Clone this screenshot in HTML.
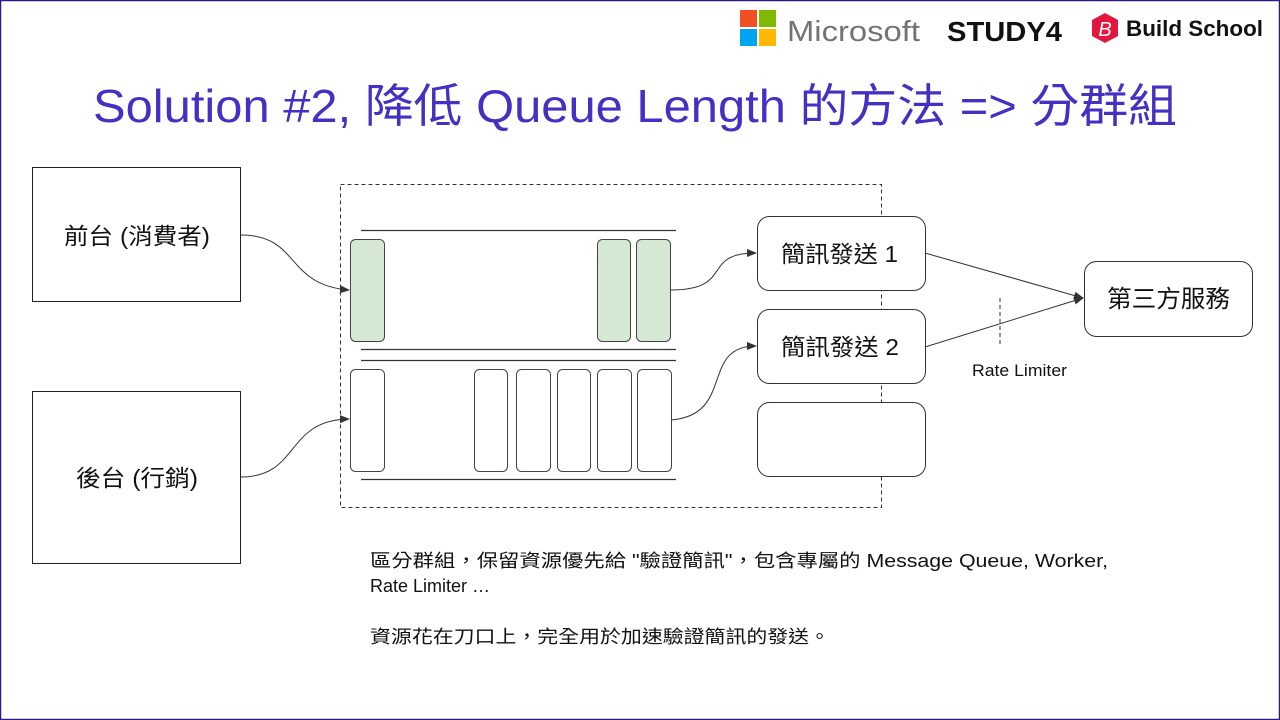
<!DOCTYPE html>
<html><head><meta charset="utf-8"><style>
html,body{margin:0;padding:0;background:#fff}
svg{display:block}
text{font-family:"Liberation Sans","Noto Sans CJK TC",sans-serif}
</style></head><body>
<svg width="1280" height="720" viewBox="0 0 1280 720" xmlns="http://www.w3.org/2000/svg">
<defs><marker id="a" markerWidth="10" markerHeight="10" refX="9" refY="5" orient="auto" markerUnits="userSpaceOnUse"><path d="M0,1 L10,5 L0,9 Z" fill="#333"/></marker></defs>
<rect x="0.5" y="0.5" width="1279" height="719" fill="#fff" stroke="#2e1a87" stroke-width="1.5"/>
<rect x="740" y="10" width="17" height="17" fill="#f25022"/><rect x="759" y="10" width="17" height="17" fill="#7fba00"/>
<rect x="740" y="29" width="17" height="17" fill="#00a4ef"/><rect x="759" y="29" width="17" height="17" fill="#ffb900"/>
<text x="787" y="41" font-size="29" fill="#737373" textLength="133" lengthAdjust="spacingAndGlyphs">Microsoft</text>
<text x="947" y="41" font-size="28" font-weight="bold" fill="#111" textLength="115" lengthAdjust="spacingAndGlyphs">STUDY4</text>
<polygon points="1105,13 1118,20 1118,36 1105,43 1092,36 1092,20" fill="#e3173e"/>
<text x="1105" y="36" font-size="20" font-style="italic" fill="#fff" text-anchor="middle" font-family="Liberation Serif">B</text>
<text x="1126" y="36" font-size="22" font-weight="bold" fill="#111" textLength="137" lengthAdjust="spacingAndGlyphs">Build School</text>
<text x="93" y="122" font-size="46" fill="#4331c4" textLength="1084" lengthAdjust="spacingAndGlyphs">Solution #2, 降低 Queue Length 的方法 =&gt; 分群組</text>
<rect x="32.5" y="167.5" width="208" height="134" fill="#fff" stroke="#222"/>
<text x="64" y="244" font-size="23" fill="#111" textLength="146" lengthAdjust="spacingAndGlyphs">前台 (消費者)</text>
<rect x="32.5" y="391.5" width="208" height="172" fill="#fff" stroke="#222"/>
<text x="76" y="486" font-size="23" fill="#111" textLength="122" lengthAdjust="spacingAndGlyphs">後台 (行銷)</text>
<rect x="340.5" y="184.5" width="541" height="323" fill="none" stroke="#333" stroke-dasharray="4,3"/>
<g stroke="#333" stroke-width="1.2">
<line x1="361" y1="230.5" x2="676" y2="230.5"/><line x1="361" y1="349.5" x2="676" y2="349.5"/>
<line x1="361" y1="360.5" x2="676" y2="360.5"/><line x1="361" y1="479.5" x2="676" y2="479.5"/>
</g>
<g stroke="#444" stroke-width="1">
<rect x="350.5" y="239.5" width="34" height="102" rx="5" fill="#d5e8d4"/>
<rect x="597.5" y="239.5" width="33" height="102" rx="5" fill="#d5e8d4"/>
<rect x="636.5" y="239.5" width="34" height="102" rx="5" fill="#d5e8d4"/>
<rect x="350.5" y="369.5" width="34" height="102" rx="5" fill="#fff"/>
<rect x="474.5" y="369.5" width="33" height="102" rx="5" fill="#fff"/>
<rect x="516.5" y="369.5" width="34" height="102" rx="5" fill="#fff"/>
<rect x="557.5" y="369.5" width="33" height="102" rx="5" fill="#fff"/>
<rect x="597.5" y="369.5" width="34" height="102" rx="5" fill="#fff"/>
<rect x="637.5" y="369.5" width="34" height="102" rx="5" fill="#fff"/>
</g>
<g stroke="#333" stroke-width="1" fill="#fff">
<rect x="757.5" y="216.5" width="168" height="74" rx="12"/>
<rect x="757.5" y="309.5" width="168" height="74" rx="12"/>
<rect x="757.5" y="402.5" width="168" height="74" rx="12"/>
<rect x="1084.5" y="261.5" width="168" height="75" rx="12"/>
</g>
<text x="781" y="262" font-size="23" fill="#111" textLength="117" lengthAdjust="spacingAndGlyphs">簡訊發送 1</text>
<text x="781" y="355" font-size="23" fill="#111" textLength="118" lengthAdjust="spacingAndGlyphs">簡訊發送 2</text>
<text x="1107" y="307" font-size="24" fill="#111" textLength="123" lengthAdjust="spacingAndGlyphs">第三方服務</text>
<g fill="none" stroke="#333" stroke-width="1">
<path d="M241,235 C300,235 285,285 349,290" marker-end="url(#a)"/>
<path d="M241,477 C300,477 285,420 349,419" marker-end="url(#a)"/>
<path d="M671,290 C735,290 700,253 756,253" marker-end="url(#a)"/>
<path d="M671,420 C735,415 700,346 756,346" marker-end="url(#a)"/>
<path d="M925,253 L1083,298" marker-end="url(#a)"/>
<path d="M925,347 L1083,298" marker-end="url(#a)"/>
<line x1="1000" y1="298" x2="1000" y2="346" stroke-dasharray="4,3"/>
</g>
<text x="972" y="376" font-size="17" fill="#111" textLength="95" lengthAdjust="spacingAndGlyphs">Rate Limiter</text>
<text x="370" y="567" font-size="18" fill="#111" textLength="738" lengthAdjust="spacingAndGlyphs">區分群組，保留資源優先給 "驗證簡訊"，包含專屬的 Message Queue, Worker,</text>
<text x="370" y="592" font-size="18" fill="#111">Rate Limiter …</text>
<text x="370" y="643" font-size="18" fill="#111" textLength="460" lengthAdjust="spacingAndGlyphs">資源花在刀口上，完全用於加速驗證簡訊的發送。</text>
</svg>
</body></html>
